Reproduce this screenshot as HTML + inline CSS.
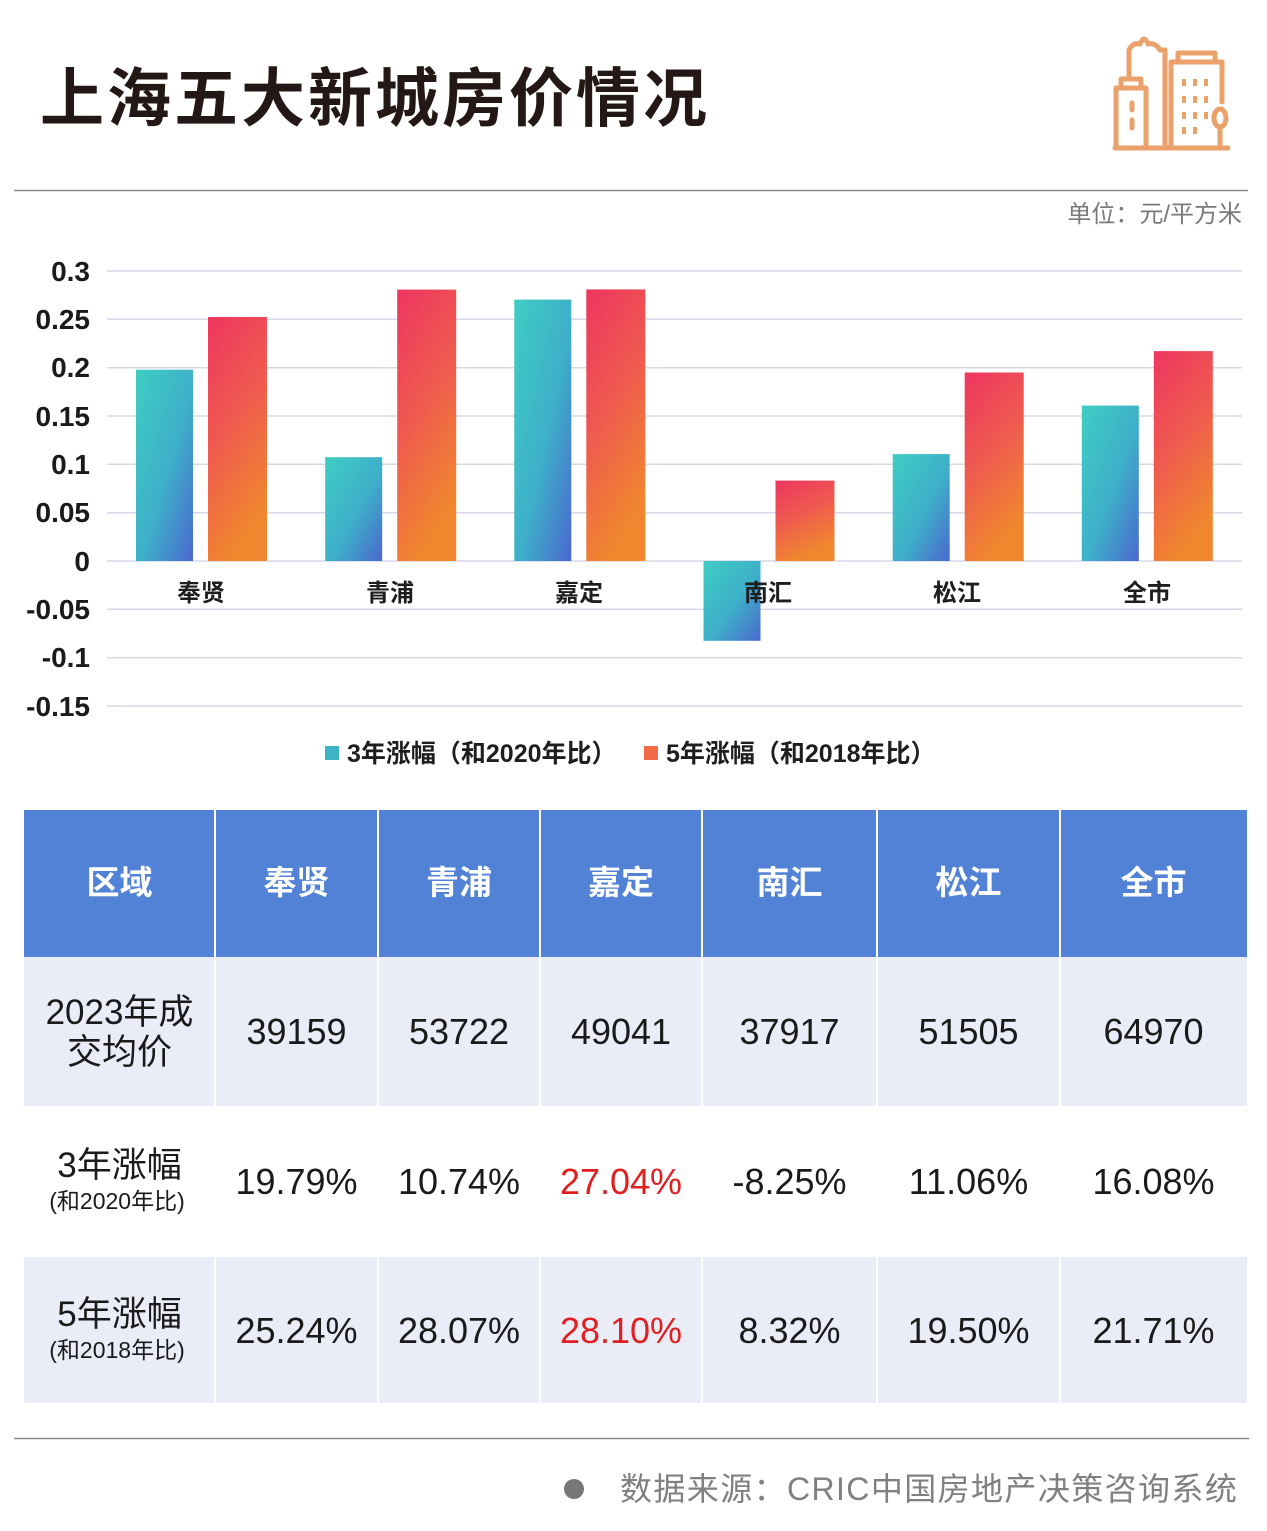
<!DOCTYPE html>
<html><head><meta charset="utf-8">
<style>
html,body{margin:0;padding:0;background:#fff;}
svg{display:block;}
text{font-family:"Liberation Sans","Noto Sans CJK SC",sans-serif;}
</style></head>
<body>
<svg width="1267" height="1531" viewBox="0 0 1267 1531" xmlns="http://www.w3.org/2000/svg">
<defs>
<linearGradient id="gt" x1="0" y1="0" x2="1" y2="1">
<stop offset="0" stop-color="#3fcdc3"/><stop offset="0.55" stop-color="#3eafc9"/><stop offset="1" stop-color="#4a68cf"/>
</linearGradient>
<linearGradient id="gr" x1="0" y1="0" x2="0.35" y2="1">
<stop offset="0" stop-color="#ee3560"/><stop offset="0.5" stop-color="#ef5a50"/><stop offset="1" stop-color="#f0872e"/>
</linearGradient>
</defs>
<rect width="1267" height="1531" fill="#fff"/>
<!-- title -->
<text x="40" y="121" font-size="64" font-weight="700" letter-spacing="3" fill="#231815">上海五大新城房价情况</text>
<!-- icon -->
<g fill="none" stroke="#eba26a" stroke-width="5" stroke-linecap="round" stroke-linejoin="round">
<line x1="1115" y1="148" x2="1228" y2="148"/>
<path d="M1116 147 V88 H1146 V147"/>
<path d="M1121 88 V79 H1141 V88"/>
<path d="M1129 79 V50 Q1133 42 1140 44 Q1144 34 1148 44 Q1155 42 1160 50 H1165 V147"/>
<path d="M1171 147 V62 H1222 V102"/>
<path d="M1178 62 V53 H1215 V62"/>
<line x1="1132" y1="103" x2="1132" y2="110"/>
<line x1="1132" y1="120" x2="1132" y2="128"/>
<ellipse cx="1220" cy="118" rx="6" ry="9"/>
<line x1="1220" y1="127" x2="1220" y2="147"/>
</g>
<g stroke="#eba26a" stroke-width="4">
<line x1="1184" y1="79" x2="1184" y2="86"/><line x1="1195" y1="79" x2="1195" y2="86"/><line x1="1206" y1="79" x2="1206" y2="86"/>
<line x1="1184" y1="96" x2="1184" y2="103"/><line x1="1195" y1="96" x2="1195" y2="103"/><line x1="1206" y1="96" x2="1206" y2="103"/>
<line x1="1184" y1="112" x2="1184" y2="119"/><line x1="1195" y1="112" x2="1195" y2="119"/><line x1="1206" y1="112" x2="1206" y2="119"/>
<line x1="1184" y1="127" x2="1184" y2="134"/><line x1="1195" y1="127" x2="1195" y2="134"/>
</g>
<line x1="14" y1="190.5" x2="1248" y2="190.5" stroke="#8a8a8a" stroke-width="1.5"/>
<text x="1242" y="222" font-size="24" fill="#7a7a7a" text-anchor="end">单位：元/平方米</text>

<!-- gridlines -->
<g stroke="#d6d8e8" stroke-width="1.5">
<line x1="107" y1="271" x2="1242" y2="271"/>
<line x1="107" y1="319.3" x2="1242" y2="319.3"/>
<line x1="107" y1="367.7" x2="1242" y2="367.7"/>
<line x1="107" y1="416" x2="1242" y2="416"/>
<line x1="107" y1="464.3" x2="1242" y2="464.3"/>
<line x1="107" y1="512.7" x2="1242" y2="512.7"/>
<line x1="107" y1="561" x2="1242" y2="561"/>
<line x1="107" y1="609.3" x2="1242" y2="609.3"/>
<line x1="107" y1="657.7" x2="1242" y2="657.7"/>
<line x1="107" y1="706" x2="1242" y2="706"/>
</g>
<g font-size="28" font-weight="700" fill="#1a1a1a" text-anchor="end">
<text x="90" y="281">0.3</text>
<text x="90" y="329">0.25</text>
<text x="90" y="377">0.2</text>
<text x="90" y="426">0.15</text>
<text x="90" y="474">0.1</text>
<text x="90" y="522">0.05</text>
<text x="90" y="571">0</text>
<text x="90" y="619">-0.05</text>
<text x="90" y="667">-0.1</text>
<text x="90" y="716">-0.15</text>
</g>
<!-- bars -->
<rect x="136" y="369.7" width="57" height="191.3" fill="url(#gt)"/>
<rect x="208" y="317" width="59" height="244" fill="url(#gr)"/>
<rect x="325.2" y="457.2" width="57" height="103.8" fill="url(#gt)"/>
<rect x="397.2" y="289.6" width="59" height="271.4" fill="url(#gr)"/>
<rect x="514.3" y="299.6" width="57" height="261.4" fill="url(#gt)"/>
<rect x="586.3" y="289.4" width="59" height="271.6" fill="url(#gr)"/>
<rect x="703.5" y="561" width="57" height="79.8" fill="url(#gt)"/>
<rect x="775.5" y="480.6" width="59" height="80.4" fill="url(#gr)"/>
<rect x="892.7" y="454.1" width="57" height="106.9" fill="url(#gt)"/>
<rect x="964.7" y="372.5" width="59" height="188.5" fill="url(#gr)"/>
<rect x="1081.8" y="405.6" width="57" height="155.4" fill="url(#gt)"/>
<rect x="1153.8" y="351.1" width="59" height="209.9" fill="url(#gr)"/>
<g font-size="24" font-weight="700" fill="#1e1e1e" text-anchor="middle">
<text x="201" y="601">奉贤</text>
<text x="390" y="601">青浦</text>
<text x="579" y="601">嘉定</text>
<text x="768" y="601">南汇</text>
<text x="957" y="601">松江</text>
<text x="1147" y="601">全市</text>
</g>
<!-- legend -->
<rect x="325" y="746" width="14" height="14" fill="#3db3c6"/>
<text x="347" y="762" font-size="25" font-weight="700" fill="#1e1e1e">3年涨幅（和2020年比）</text>
<rect x="644" y="746" width="14" height="14" fill="#f06a48"/>
<text x="666" y="762" font-size="25" font-weight="700" fill="#1e1e1e">5年涨幅（和2018年比）</text>

<!-- table -->
<rect x="24" y="810" width="1223" height="147" fill="#5282d5"/>
<rect x="24" y="957" width="1223" height="149" fill="#eaecf8"/>
<rect x="24" y="1257" width="1223" height="146" fill="#eaecf8"/>
<g stroke="#ffffff" stroke-width="2">
<line x1="215" y1="810" x2="215" y2="1403"/>
<line x1="378" y1="810" x2="378" y2="1403"/>
<line x1="540" y1="810" x2="540" y2="1403"/>
<line x1="702" y1="810" x2="702" y2="1403"/>
<line x1="877" y1="810" x2="877" y2="1403"/>
<line x1="1060" y1="810" x2="1060" y2="1403"/>
</g>
<g font-size="33" font-weight="700" fill="#ffffff" text-anchor="middle">
<text x="119.5" y="894">区域</text>
<text x="296.5" y="894">奉贤</text>
<text x="459" y="894">青浦</text>
<text x="621" y="894">嘉定</text>
<text x="789.5" y="894">南汇</text>
<text x="968.5" y="894">松江</text>
<text x="1153.5" y="894">全市</text>
</g>
<g font-size="35" fill="#1a1a1a" text-anchor="middle">
<text x="119.5" y="1024">2023年成</text>
<text x="119.5" y="1064">交均价</text>
<text x="119.5" y="1177">3年涨幅</text>
<text x="119.5" y="1326">5年涨幅</text>
</g>
<g font-size="23" fill="#1a1a1a" text-anchor="middle">
<text x="117" y="1209">(和2020年比)</text>
<text x="117" y="1358">(和2018年比)</text>
</g>
<g font-size="36" fill="#1a1a1a" text-anchor="middle">
<text x="296.5" y="1044">39159</text>
<text x="459" y="1044">53722</text>
<text x="621" y="1044">49041</text>
<text x="789.5" y="1044">37917</text>
<text x="968.5" y="1044">51505</text>
<text x="1153.5" y="1044">64970</text>
<text x="296.5" y="1194">19.79%</text>
<text x="459" y="1194">10.74%</text>
<text x="621" y="1194" fill="#e02020">27.04%</text>
<text x="789.5" y="1194">-8.25%</text>
<text x="968.5" y="1194">11.06%</text>
<text x="1153.5" y="1194">16.08%</text>
<text x="296.5" y="1343">25.24%</text>
<text x="459" y="1343">28.07%</text>
<text x="621" y="1343" fill="#e02020">28.10%</text>
<text x="789.5" y="1343">8.32%</text>
<text x="968.5" y="1343">19.50%</text>
<text x="1153.5" y="1343">21.71%</text>
</g>
<!-- footer -->
<line x1="14" y1="1438.5" x2="1249" y2="1438.5" stroke="#8a8a8a" stroke-width="1.5"/>
<circle cx="574" cy="1489" r="10" fill="#777"/>
<text x="620" y="1500" font-size="32" letter-spacing="1.4" fill="#808080">数据来源：CRIC中国房地产决策咨询系统</text>
</svg>
</body></html>
